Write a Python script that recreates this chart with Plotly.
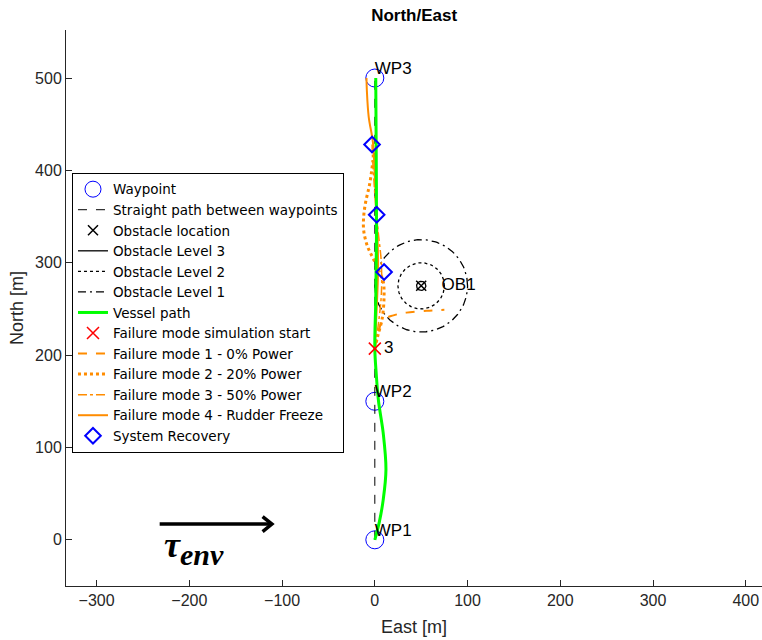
import numpy as np
import plotly.graph_objects as go

# ---------------- data ----------------
wp_east = [0, 0, 0]
wp_north = [0, 150, 500]
wp_labels = ["WP1", "WP2", "WP3"]

obs_east = [50]
obs_north = [275]
obs_label = ["OB1"]
obs_radii = [5, 25, 50]          # level 3, level 2, level 1

vessel_east = [0, 5, 9, 12, 9, 4, 1.5, 0, 1, 1.8, 1.5, 1]
vessel_north = [0, 20, 43, 76, 116, 150, 180, 207, 260, 335, 420, 500]

fail_start_east = [0]
fail_start_north = [207]
fail_start_label = ["3"]

fm1_east = [0, 3, 9, 20, 34, 56, 75]
fm1_north = [207, 222, 238, 243, 246, 248, 249]

fm2_east = [0, 3, 8, 10, 9, 5, -2, -8, -12, -12, -10, -5.4, -2]
fm2_north = [207, 220, 240, 265, 280, 290, 305, 318, 335, 350, 365, 386, 411]

fm3_east = [0, 4, 7, 7, 4, 1, -1, -2.5, -3]
fm3_north = [207, 235, 265, 300, 330, 360, 390, 415, 428]

fm4_east = [0, 2, 3.5, 3.3, 2.2, 0, -2, -6.6, -8.6, -9]
fm4_north = [207, 250, 290, 314, 350, 393, 430, 458, 487, 500]

recovery_east = [-3, 2, 10]
recovery_north = [428, 352, 290]

env_arrow_east = [-232, -111]
env_arrow_north = [17, 17]

x_ticks = [-300, -200, -100, 0, 100, 200, 300, 400]
y_ticks = [0, 100, 200, 300, 400, 500]

# ---------------- figure ----------------
ORANGE = "#ff8c00"
FONT = "Liberation Sans"
TXT = "#262626"

fig = go.Figure()

fig.add_trace(go.Scatter(x=wp_east, y=wp_north, mode="markers", name="Waypoint",
                         marker=dict(symbol="circle-open", size=18, color="#0000ff",
                                     line=dict(width=1))))
fig.add_trace(go.Scatter(x=wp_east, y=wp_north, mode="lines",
                         name="Straight path between waypoints",
                         line=dict(color="black", width=1, dash="dash")))
fig.add_trace(go.Scatter(x=obs_east, y=obs_north, mode="markers", name="Obstacle location",
                         marker=dict(symbol="x-thin-open", size=10, color="black",
                                     line=dict(width=1.5, color="black"))))

theta = np.linspace(0, 2 * np.pi, 181)
level_names = ["Obstacle Level 3", "Obstacle Level 2", "Obstacle Level 1"]
level_dash = ["solid", "dot", "8px,4px,2px,4px"]
for r, nm, ds in zip(obs_radii, level_names, level_dash):
    fig.add_trace(go.Scatter(x=obs_east[0] + r * np.cos(theta),
                             y=obs_north[0] + r * np.sin(theta),
                             mode="lines", name=nm,
                             line=dict(color="black", width=1.3, dash=ds)))

fig.add_trace(go.Scatter(x=fm1_east, y=fm1_north, mode="lines", showlegend=False,
                         line=dict(color=ORANGE, width=2, dash="dash", shape="spline")))
fig.add_trace(go.Scatter(x=fm2_east, y=fm2_north, mode="lines", showlegend=False,
                         line=dict(color=ORANGE, width=3, dash="dot", shape="spline")))
fig.add_trace(go.Scatter(x=fm3_east, y=fm3_north, mode="lines", showlegend=False,
                         line=dict(color=ORANGE, width=1.5, dash="dashdot", shape="spline")))
fig.add_trace(go.Scatter(x=fm4_east, y=fm4_north, mode="lines", showlegend=False,
                         line=dict(color=ORANGE, width=2, shape="spline")))

fig.add_trace(go.Scatter(x=vessel_east, y=vessel_north, mode="lines", name="Vessel path",
                         line=dict(color="#00ff00", width=3, shape="spline")))
fig.add_trace(go.Scatter(x=fail_start_east, y=fail_start_north, mode="markers",
                         name="Failure mode simulation start",
                         marker=dict(symbol="x-thin-open", size=12, color="red",
                                     line=dict(width=1.5, color="red"))))

# legend-only entries for failure modes (keep legend order)
fm_names = ["Failure mode 1 - 0% Power", "Failure mode 2 - 20% Power",
            "Failure mode 3 - 50% Power", "Failure mode 4 - Rudder Freeze"]
fm_styles = [("dash", 2), ("dot", 3), ("dashdot", 1.5), ("solid", 2)]
for nm, (ds, w) in zip(fm_names, fm_styles):
    fig.add_trace(go.Scatter(x=[None], y=[None], mode="lines", name=nm,
                             line=dict(color=ORANGE, width=w, dash=ds)))

fig.add_trace(go.Scatter(x=recovery_east, y=recovery_north, mode="markers",
                         name="System Recovery",
                         marker=dict(symbol="diamond-open", size=12, color="#0000ff",
                                     line=dict(width=2))))

# text labels
fig.add_trace(go.Scatter(x=wp_east, y=wp_north, mode="text", text=wp_labels,
                         textposition="top right", showlegend=False,
                         textfont=dict(family=FONT, size=17, color="black")))
fig.add_trace(go.Scatter(x=[obs_east[0] + 22], y=obs_north, mode="text", text=obs_label,
                         textposition="middle right", showlegend=False,
                         textfont=dict(family=FONT, size=17, color="black")))
fig.add_trace(go.Scatter(x=[fail_start_east[0] + 10], y=fail_start_north, mode="text",
                         text=fail_start_label, textposition="middle right",
                         showlegend=False,
                         textfont=dict(family=FONT, size=17, color="black")))

# environmental force arrow
fig.add_trace(go.Scatter(x=env_arrow_east, y=env_arrow_north, mode="lines",
                         showlegend=False, line=dict(color="black", width=3.5)))
ex_end, ny_end = env_arrow_east[1], env_arrow_north[1]
head = 10
fig.add_trace(go.Scatter(x=[ex_end - head, ex_end, ex_end - head],
                         y=[ny_end + head * 0.8, ny_end, ny_end - head * 0.8],
                         mode="lines", showlegend=False,
                         line=dict(color="black", width=3.5)))
fig.add_annotation(x=env_arrow_east[0] + 2, y=-9, xref="x", yref="y", xanchor="left",
                   text="<b><i>τ</i></b><sub><b><i><span style='font-size:30px'>env</span></i></b></sub>",
                   showarrow=False,
                   font=dict(family="Liberation Serif", size=36, color="black"))

fig.update_layout(
    width=762, height=640,
    margin=dict(l=66, r=0, t=30, b=54),
    plot_bgcolor="white", paper_bgcolor="white",
    font=dict(family=FONT, size=16, color=TXT),
    title=dict(text="<b>North/East</b>", x=0.5435, xanchor="center",
               y=0.977, yanchor="middle",
               font=dict(family=FONT, size=17, color="black")),
    showlegend=True,
    legend=dict(x=0.0086, y=0.743, xanchor="left", yanchor="top",
                bgcolor="white", bordercolor="black", borderwidth=1,
                font=dict(family="DejaVu Sans", size=13.5, color="black"),
                itemwidth=30, tracegroupgap=0),
)
fig.update_xaxes(range=[-333, 417.5], tickvals=x_ticks, ticks="inside", ticklen=6,
                 tickcolor=TXT, showline=True, linecolor=TXT, linewidth=1,
                 showgrid=False, zeroline=False,
                 title=dict(text="East [m]", font=dict(size=18, color=TXT), standoff=12))
fig.update_yaxes(range=[-50, 552], tickvals=y_ticks, ticks="inside", ticklen=6,
                 tickcolor=TXT, showline=True, linecolor=TXT, linewidth=1,
                 showgrid=False, zeroline=False,
                 title=dict(text="North [m]", font=dict(size=18, color=TXT), standoff=6))

fig.write_html("out.html")
